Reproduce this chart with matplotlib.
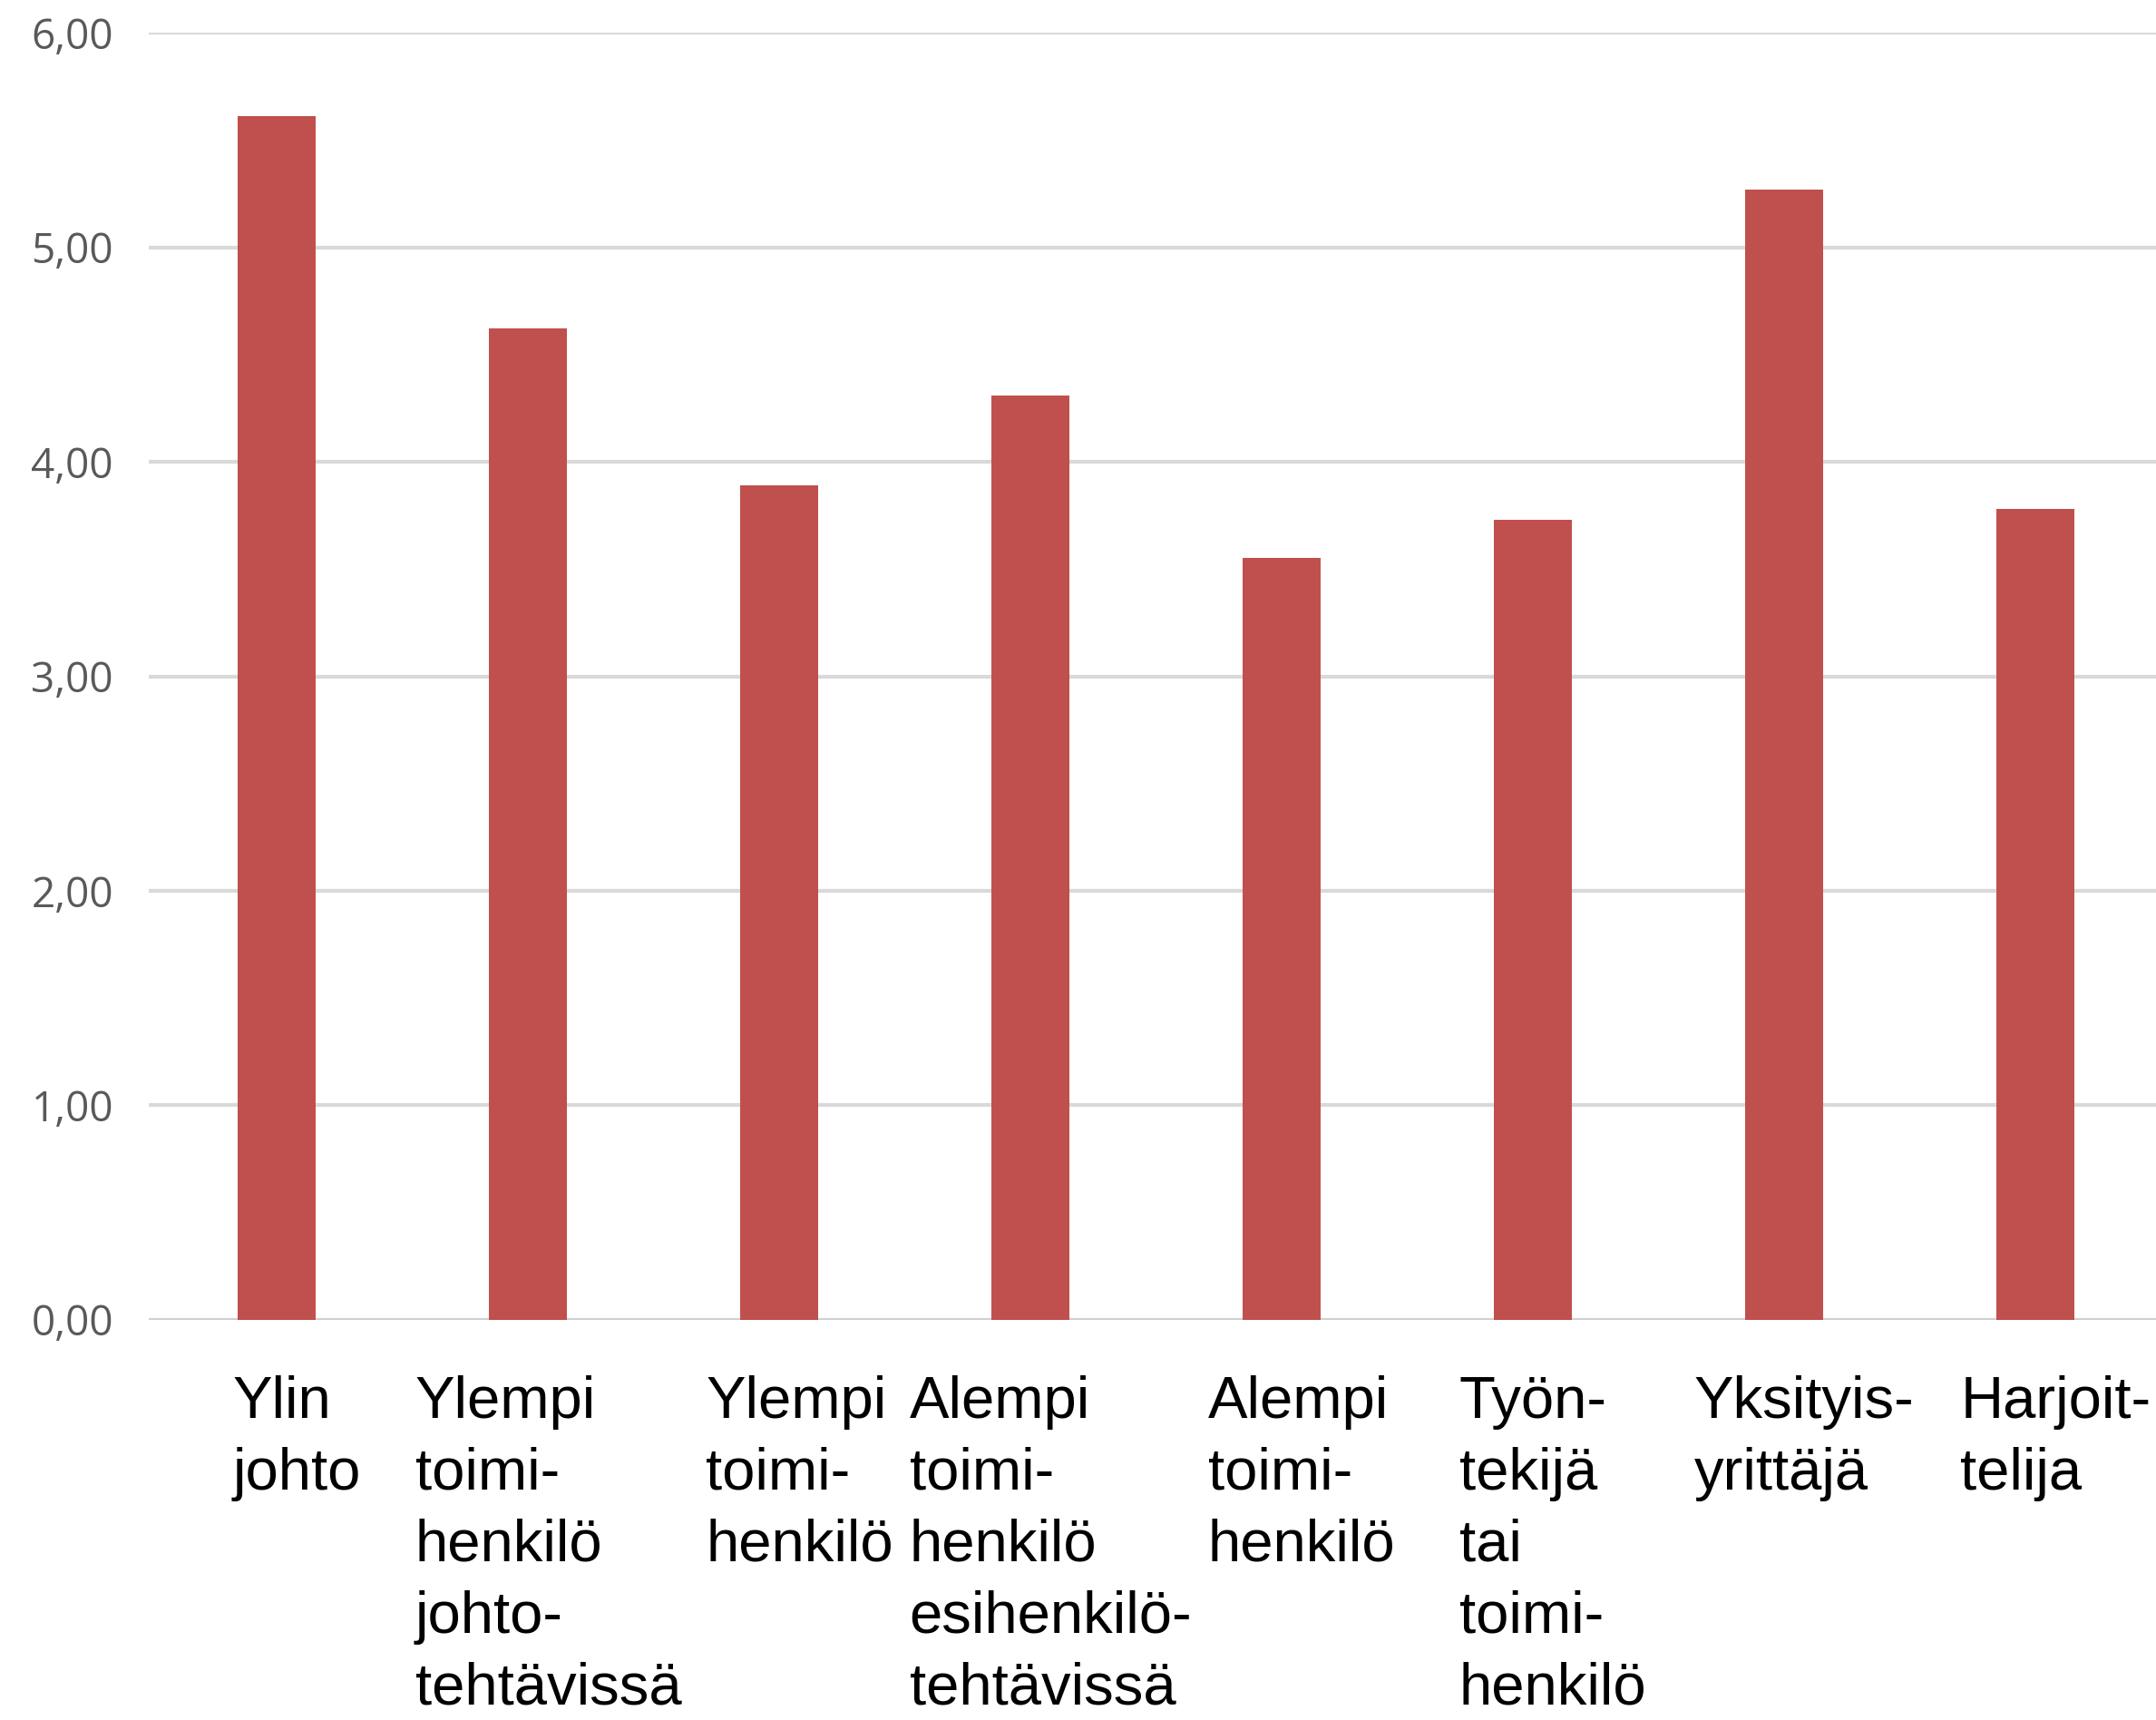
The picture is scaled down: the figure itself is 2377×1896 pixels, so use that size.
import matplotlib.pyplot as plt
import matplotlib.transforms as mtransforms
import numpy as np

# categories and values
categories = [
    "Ylin\njohto",
    "Ylempi\ntoimi-\nhenkilö\njohto-\ntehtävissä",
    "Ylempi\ntoimi-\nhenkilö",
    "Alempi\ntoimi-\nhenkilö\nesihenkilö-\ntehtävissä",
    "Alempi\ntoimi-\nhenkilö",
    "Työn-\ntekijä\ntai\ntoimi-\nhenkilö",
    "Yksityis-\nyrittäjä",
    "Harjoit-\ntelija",
]
values = [5.61, 4.62, 3.89, 4.31, 3.55, 3.73, 5.27, 3.78]
yticks = [0, 1, 2, 3, 4, 5, 6]
ytick_labels = ["0,00", "1,00", "2,00", "3,00", "4,00", "5,00", "6,00"]

fig = plt.figure(figsize=(23.77, 18.96), dpi=100)
ax = fig.add_axes([0.069, 0.2326, 0.931, 0.7484])

x = np.arange(len(categories))
ax.bar(x, values, width=0.31, color="#C0504D", zorder=3)

ax.set_ylim(0, 6)
ax.set_xlim(-0.51, 7.48)
ax.set_yticks(yticks)
ax.set_yticklabels(ytick_labels, fontfamily="Open Sans", fontsize=33, color="#595959")
ax.tick_params(axis="y", length=0, pad=28)
ax.grid(axis="y", color="#d9d9d9", linewidth=3, zorder=0)
for s in ["top", "right", "left", "bottom"]:
    ax.spines[s].set_visible(False)
ax.axhline(0, color="#d0d0d0", linewidth=3.5, zorder=2)

ax.set_xticks([])
# category labels, left-aligned lines centred under each slot
trans = mtransforms.blended_transform_factory(ax.transData, ax.transAxes)
offset = mtransforms.ScaledTranslation(0, -44 / 72, fig.dpi_scale_trans)
for xi, lab in zip(x, categories):
    ax.text(xi + 0.08, 0, lab, transform=trans + offset, ha="center", va="top",
            multialignment="left", fontfamily="Liberation Sans", fontsize=47,
            linespacing=1.4, color="black")

plt.savefig("out.png", dpi=100)
